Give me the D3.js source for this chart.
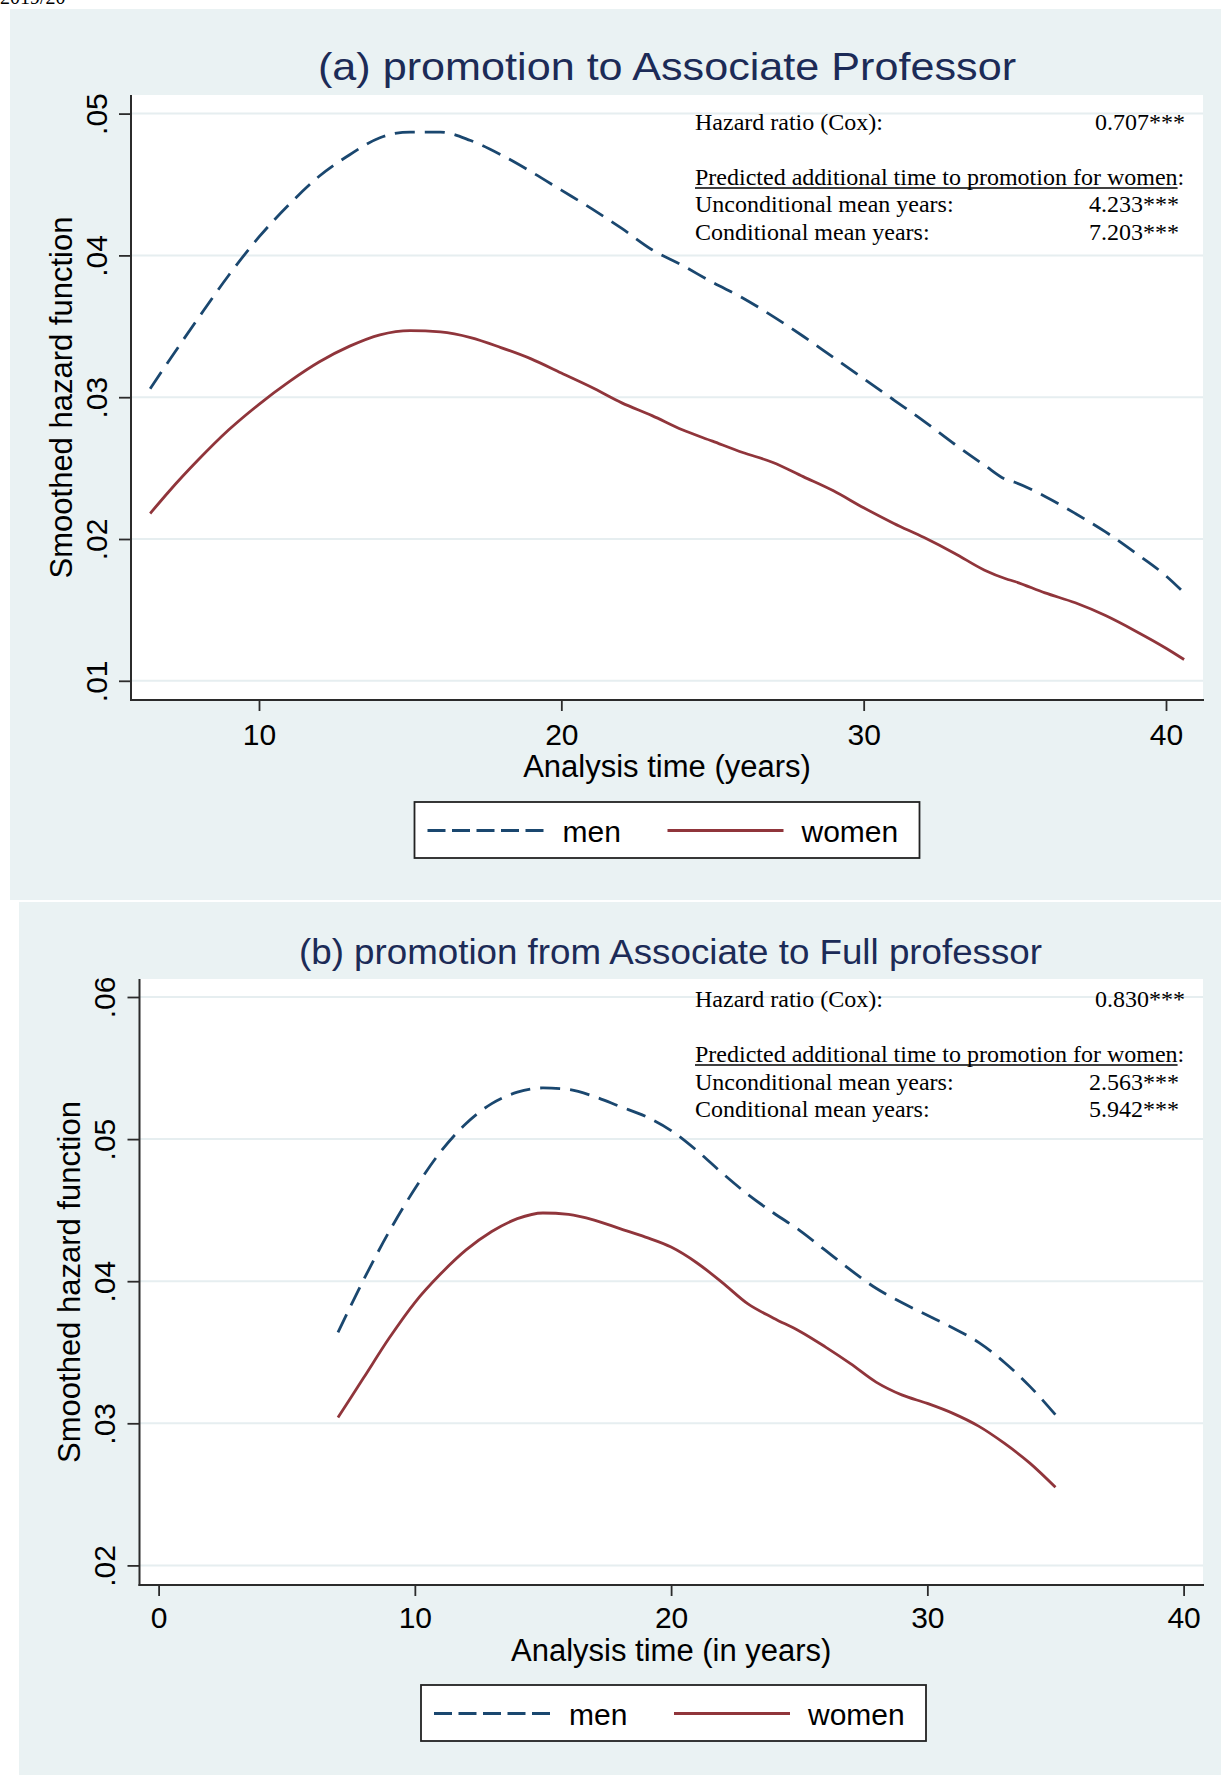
<!DOCTYPE html>
<html>
<head>
<meta charset="utf-8">
<script src="https://cdn.jsdelivr.net/npm/d3@7/dist/d3.min.js"></script>
<style>
  body { margin: 0; background: #fff; }
  svg { display: block; }
</style>
</head>
<body>
<div id="chart"></div>
<script>
// Panel (a): promotion to Associate Professor
const yearsA = [6.4, 7, 8, 9, 10, 11, 12, 13, 14, 15, 16, 17, 18, 19, 20, 21, 22, 23, 24, 25,
    26, 27, 28, 29, 30, 31, 32, 33, 34, 34.7, 35, 36, 37, 38, 39, 40, 40.6];
const menA = [0.0306, 0.0325, 0.0356, 0.0386, 0.0413, 0.0436, 0.0456, 0.0471, 0.0483, 0.0487,
    0.0487, 0.0481, 0.0471, 0.0459, 0.0446, 0.0433, 0.0419, 0.0404, 0.0393, 0.0381,
    0.0370, 0.0357, 0.0343, 0.0328, 0.0313, 0.0298, 0.0283, 0.0267, 0.0252, 0.0242,
    0.0240, 0.0230, 0.0218, 0.0205, 0.0190, 0.0174, 0.0162];
const womenA = [0.0218, 0.0233, 0.0256, 0.0277, 0.0295, 0.0311, 0.0325, 0.0336, 0.0344, 0.0347,
    0.0346, 0.0342, 0.0335, 0.0327, 0.0317, 0.0307, 0.0296, 0.0287, 0.0277, 0.0269,
    0.0261, 0.0254, 0.0244, 0.0234, 0.0222, 0.0211, 0.0201, 0.0190, 0.0178, 0.0172,
    0.0170, 0.0162, 0.0155, 0.0146, 0.0135, 0.0123, 0.0115];

// Panel (b): promotion from Associate to Full professor
const yearsB = [7, 8, 9, 10, 11, 12, 13, 14, 15, 16, 17, 18, 19, 20, 21, 22, 23, 24, 25, 26,
    27, 28, 29, 30, 31, 32, 33, 34, 35];
const menB = [0.0364, 0.0401, 0.0435, 0.0465, 0.0491, 0.0511, 0.0525, 0.0533, 0.0536, 0.0535,
    0.0530, 0.0523, 0.0516, 0.0506, 0.0492, 0.0476, 0.0461, 0.0448, 0.0436, 0.0422,
    0.0408, 0.0395, 0.0385, 0.0376, 0.0367, 0.0357, 0.0343, 0.0326, 0.0306];
const womenB = [0.0304, 0.0332, 0.0360, 0.0385, 0.0405, 0.0422, 0.0435, 0.0444, 0.0448, 0.0447,
    0.0443, 0.0437, 0.0431, 0.0424, 0.0413, 0.0399, 0.0384, 0.0374, 0.0365, 0.0354,
    0.0342, 0.0329, 0.0320, 0.0314, 0.0307, 0.0298, 0.0286, 0.0272, 0.0255];

const yTicksA = [0.01, 0.02, 0.03, 0.04, 0.05];
const xTicksA = [10, 20, 30, 40];
const yTicksB = [0.02, 0.03, 0.04, 0.05, 0.06];
const xTicksB = [0, 10, 20, 30, 40];

const statLabels = ["Hazard ratio (Cox):", "Unconditional mean years:", "Conditional mean years:"];
const statsA = ["0.707***", "4.233***", "7.203***"];
const statsB = ["0.830***", "2.563***", "5.942***"];
const seriesNames = ["men", "women"];

const NAVY = '#1a476f';
const MAROON = '#90353b';
const BG = '#eaf2f3';
const GRID = '#e6eef0';
const AXIS = '#2b2b2b';
const SANS = '"Liberation Sans", Arial, sans-serif';
const SERIF = '"Liberation Serif", "Times New Roman", serif';

const svg = d3.select('#chart')
    .append('svg')
    .attr('width', 1221)
    .attr('height', 1775);

svg.append('rect').attr('width', 1221).attr('height', 1775).attr('fill', '#fff');

// page header, cut off at the top edge as in the scan
svg.append('text')
    .attr('x', 0).attr('y', 4)
    .style('font-family', SERIF).style('font-size', '20px')
    .text('2019/20');

function drawPanel(cfg) {
    const g = svg.append('g');
    const p = cfg.plot;

    g.append('rect')
        .attr('x', cfg.bg[0]).attr('y', cfg.bg[1])
        .attr('width', cfg.bg[2]).attr('height', cfg.bg[3])
        .attr('fill', BG);

    g.append('rect')
        .attr('x', p.left).attr('y', p.top)
        .attr('width', p.right - p.left).attr('height', p.bottom - p.top)
        .attr('fill', '#fff');

    const x = d3.scaleLinear().domain(cfg.xDomain).range(cfg.xRange);
    const y = d3.scaleLinear().domain(cfg.yDomain).range(cfg.yRange);

    // gridlines
    g.append('g')
        .selectAll('line')
        .data(cfg.yTicks)
        .enter()
        .append('line')
        .attr('x1', p.left).attr('x2', p.right)
        .attr('y1', d => y(d)).attr('y2', d => y(d))
        .style('stroke', GRID)
        .style('stroke-width', 2);

    // title
    g.append('text')
        .attr('x', cfg.title.x).attr('y', cfg.title.y)
        .attr('text-anchor', 'middle')
        .attr('textLength', cfg.title.length)
        .attr('lengthAdjust', 'spacingAndGlyphs')
        .style('font-family', SANS)
        .style('font-size', cfg.title.size + 'px')
        .style('fill', '#1c2b57')
        .text(cfg.title.text);

    // x axis
    const xAxis = g.append('g')
        .attr('transform', `translate(0,${p.bottom})`)
        .call(d3.axisBottom(x).tickValues(cfg.xTicks).tickSize(11).tickFormat(d3.format('d')));
    xAxis.select('.domain').remove();
    xAxis.selectAll('line').style('stroke', AXIS).style('stroke-width', 1.8);
    xAxis.selectAll('text')
        .attr('y', cfg.xLabelY - p.bottom).attr('dy', 0)
        .style('font-family', SANS).style('font-size', '30px').style('fill', '#000');
    g.append('line')
        .attr('x1', p.left - 1).attr('x2', p.right + 1)
        .attr('y1', p.bottom).attr('y2', p.bottom)
        .style('stroke', AXIS).style('stroke-width', 2);

    // y axis
    const yAxis = g.append('g')
        .attr('transform', `translate(${p.left},0)`)
        .call(d3.axisLeft(y).tickValues(cfg.yTicks).tickSize(12)
            .tickFormat(d => d3.format('.2f')(d).replace(/^0/, '')));
    yAxis.select('.domain').remove();
    yAxis.selectAll('line').style('stroke', AXIS).style('stroke-width', 1.8);
    yAxis.selectAll('text')
        .attr('x', 0).attr('dy', 0)
        .attr('text-anchor', 'middle')
        .attr('transform', `translate(${cfg.yLabelX - p.left},0) rotate(-90)`)
        .style('font-family', SANS).style('font-size', '30px').style('fill', '#000');
    g.append('line')
        .attr('x1', p.left).attr('x2', p.left)
        .attr('y1', p.top).attr('y2', p.bottom + 1)
        .style('stroke', AXIS).style('stroke-width', 2);

    // axis titles
    g.append('text')
        .attr('x', (p.left + p.right) / 2).attr('y', cfg.xTitleY)
        .attr('text-anchor', 'middle')
        .style('font-family', SANS).style('font-size', '31px')
        .text(cfg.xTitle);
    g.append('text')
        .attr('transform', `translate(${cfg.yTitleX},${(p.top + p.bottom) / 2}) rotate(-90)`)
        .attr('text-anchor', 'middle')
        .style('font-family', SANS).style('font-size', '31px')
        .text('Smoothed hazard function');

    // curves
    const line = d3.line()
        .x(d => x(d[0]))
        .y(d => y(d[1]))
        .curve(d3.curveMonotoneX);

    g.append('path')
        .datum(d3.zip(cfg.years, cfg.women))
        .attr('d', line)
        .style('fill', 'none')
        .style('stroke', MAROON)
        .style('stroke-width', 2.8);

    g.append('path')
        .datum(d3.zip(cfg.years, cfg.men))
        .attr('d', line)
        .style('fill', 'none')
        .style('stroke', NAVY)
        .style('stroke-width', 2.8)
        .style('stroke-dasharray', '20,10');

    // stats box
    const sy = cfg.statY;
    const st = g.append('g')
        .style('font-family', SERIF).style('font-size', '24px').style('fill', '#000');
    st.append('text').attr('x', 695).attr('y', sy[0]).text(statLabels[0]);
    st.append('text').attr('x', 1185).attr('y', sy[0]).attr('text-anchor', 'end').text(cfg.stats[0]);

    const head = st.append('text').attr('x', 695).attr('y', sy[1])
        .text('Predicted additional time to promotion for women');
    const headLen = head.node().getComputedTextLength();
    st.append('text').attr('x', 695 + headLen).attr('y', sy[1]).text(':');
    st.append('line')
        .attr('x1', 695).attr('x2', 695 + headLen)
        .attr('y1', sy[1] + 3).attr('y2', sy[1] + 3)
        .style('stroke', '#000').style('stroke-width', 1.5);

    [1, 2].forEach(i => {
        st.append('text').attr('x', 695).attr('y', sy[i + 1]).text(statLabels[i]);
        st.append('text').attr('x', 1179).attr('y', sy[i + 1]).attr('text-anchor', 'end').text(cfg.stats[i]);
    });

    // legend
    const lg = cfg.legend;
    const leg = g.append('g').attr('transform', `translate(${lg.x},${lg.y})`);
    leg.append('rect')
        .attr('width', 505).attr('height', 56)
        .attr('fill', '#fff')
        .style('stroke', '#222').style('stroke-width', 1.8);
    leg.append('line')
        .attr('x1', 13).attr('x2', 129).attr('y1', 28.5).attr('y2', 28.5)
        .style('stroke', NAVY).style('stroke-width', 2.8).style('stroke-dasharray', '18,6.5');
    leg.append('text').attr('x', 148).attr('y', 40)
        .style('font-family', SANS).style('font-size', '30px').text(seriesNames[0]);
    leg.append('line')
        .attr('x1', 253).attr('x2', 369).attr('y1', 28.5).attr('y2', 28.5)
        .style('stroke', MAROON).style('stroke-width', 2.8);
    leg.append('text').attr('x', 387).attr('y', 40)
        .style('font-family', SANS).style('font-size', '30px').text(seriesNames[1]);
}

drawPanel({
    bg: [10, 9, 1211, 891],
    plot: { left: 131, top: 95, right: 1203, bottom: 700 },
    xDomain: [10, 40], xRange: [259, 1166],
    yDomain: [0.01, 0.05], yRange: [680.8, 113.6],
    xTicks: xTicksA, yTicks: yTicksA,
    years: yearsA, men: menA, women: womenA,
    title: { text: '(a) promotion to Associate Professor', x: 667, y: 80, size: 39, length: 698 },
    xTitle: 'Analysis time (years)',
    xLabelY: 745, xTitleY: 777,
    yLabelX: 107, yTitleX: 72,
    stats: statsA, statY: [130, 185, 212, 239.5],
    legend: { x: 414.5, y: 802 }
});

drawPanel({
    bg: [19, 902, 1202, 873],
    plot: { left: 139.5, top: 979, right: 1203, bottom: 1585 },
    xDomain: [0, 40], xRange: [158.6, 1183.6],
    yDomain: [0.02, 0.06], yRange: [1565.4, 997],
    xTicks: xTicksB, yTicks: yTicksB,
    years: yearsB, men: menB, women: womenB,
    title: { text: '(b) promotion from Associate to Full professor', x: 670.5, y: 964, size: 35, length: 743 },
    xTitle: 'Analysis time (in years)',
    xLabelY: 1628, xTitleY: 1661,
    yLabelX: 115, yTitleX: 80,
    stats: statsB, statY: [1007, 1062, 1090, 1117],
    legend: { x: 421, y: 1685 }
});
</script>
</body>
</html>
